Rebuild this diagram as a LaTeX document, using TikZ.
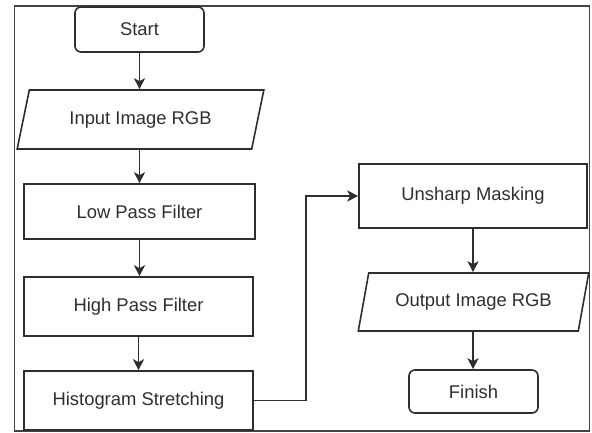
\documentclass[tikz,border=0pt]{standalone}
\usepackage{fontspec}
\setmainfont{Liberation Sans}
\usetikzlibrary{shapes.geometric,arrows.meta}
\definecolor{ink}{HTML}{2E2E2E}
\definecolor{framec}{HTML}{444444}
\tikzset{
  base/.style={draw=ink, line width=1.6pt, text=ink, font=\fontsize{18.4}{22}\selectfont, inner sep=0pt, align=center},
  procbox/.style={base, rectangle, minimum width=#1},
  termbox/.style={base, rectangle, rounded corners=6pt, minimum width=129pt},
  iobox/.style={base, trapezium, trapezium stretches=true, trapezium left angle=65, trapezium right angle=115},
  flow/.style={draw=ink, line width=1.7pt, -{Stealth[length=11pt,width=11pt,inset=3pt]}},
}
\begin{document}
\begin{tikzpicture}[x=1pt, y=-1pt]
\useasboundingbox (0,0) rectangle (592,433);
% outer frame
\draw[framec, line width=1.8pt] (14.5,6) rectangle (589.5,431);
% left column
\node[termbox, minimum height=45pt] (start) at (139.5,29.5) {Start};
\node[iobox, minimum width=247pt, minimum height=59pt] (input) at (140.5,119.5) {Input Image RGB};
\node[procbox=231pt, minimum height=55pt] (low) at (139.5,211.5) {Low Pass Filter};
\node[procbox=229pt, minimum height=59pt] (high) at (138.5,306.5) {High Pass Filter};
\node[procbox=229pt, minimum height=59pt] (hist) at (138.5,400.5) {Histogram Stretching};
% right column
\node[procbox=228pt, minimum height=64pt] (unsharp) at (473,196) {Unsharp Masking};
\node[iobox, minimum width=231pt, minimum height=58pt] (output) at (473.5,302) {Output Image RGB};
\node[termbox, minimum height=43pt] (finish) at (473.5,391.5) {Finish};
% connectors
\draw[flow] (start) -- (start |- input.north);
\draw[flow] (start |- input.south) -- (start |- low.north);
\draw[flow] (low) -- (low |- high.north);
\draw[flow] (high) -- (hist);
\draw[flow] (hist.east) -- ++(52,0) |- (unsharp.west);
\draw[flow] (unsharp) -- (unsharp |- output.north);
\draw[flow] (unsharp |- output.south) -- (unsharp |- finish.north);
\end{tikzpicture}
\end{document}
